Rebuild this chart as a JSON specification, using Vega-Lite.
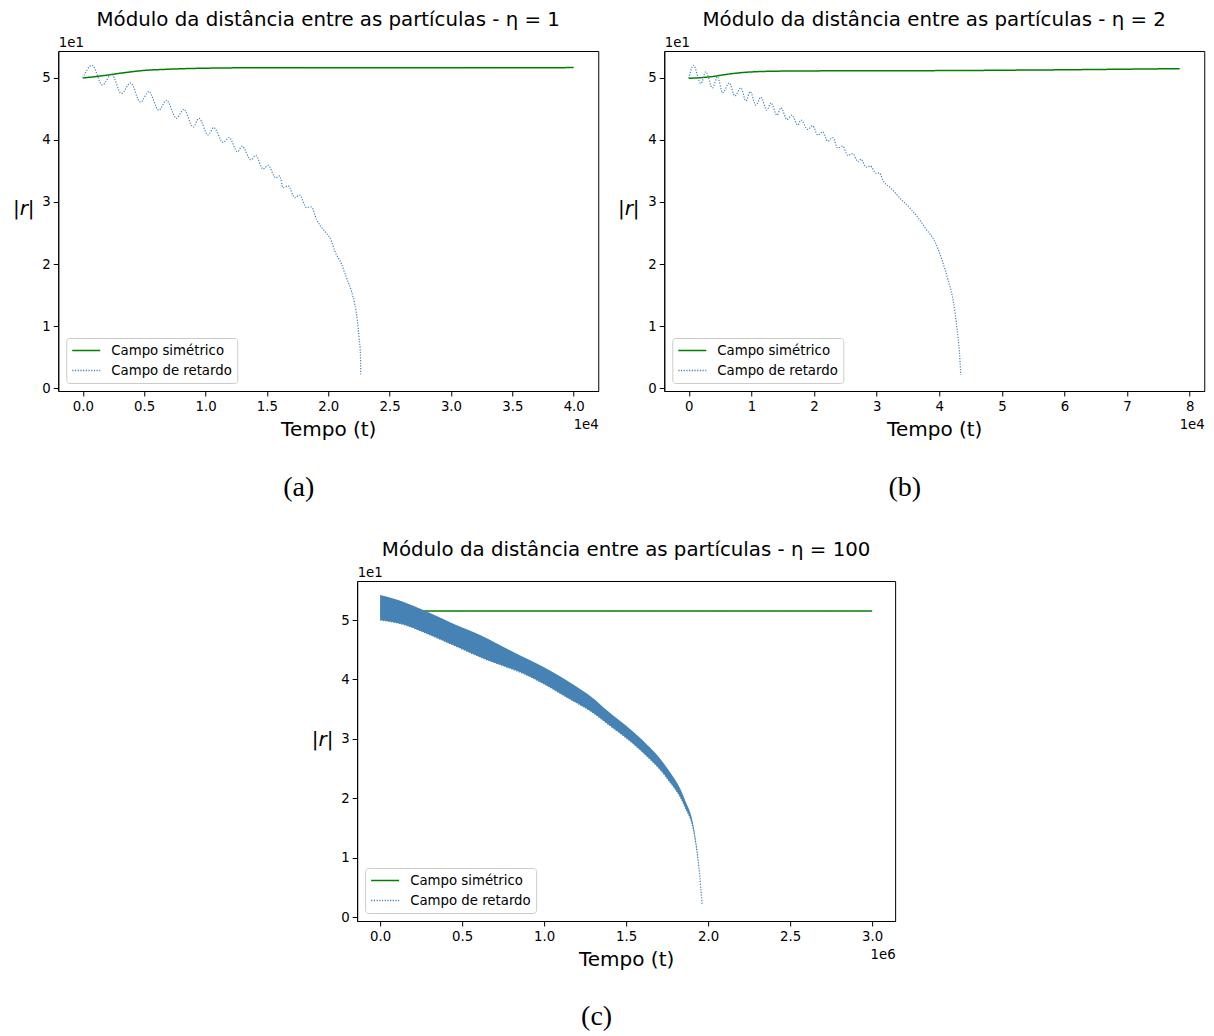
{
  "$schema": "https://vega.github.io/schema/vega-lite/v6.json",
  "padding": {"left": 11, "top": 9, "right": 5, "bottom": 5},
  "datasets": {
    "a": [
      {"s": "Campo simétrico", "t": 0, "r": 50.0},
      {"s": "Campo simétrico", "t": 1380, "r": 50.3},
      {"s": "Campo simétrico", "t": 2470, "r": 50.6},
      {"s": "Campo simétrico", "t": 3560, "r": 50.9},
      {"s": "Campo simétrico", "t": 4910, "r": 51.2},
      {"s": "Campo simétrico", "t": 6820, "r": 51.4},
      {"s": "Campo simétrico", "t": 9530, "r": 51.56},
      {"s": "Campo simétrico", "t": 14420, "r": 51.65},
      {"s": "Campo simétrico", "t": 20000, "r": 51.66},
      {"s": "Campo simétrico", "t": 30000, "r": 51.66},
      {"s": "Campo simétrico", "t": 40000, "r": 51.67},
      {"s": "Campo de retardo", "t": 0, "r": 50.0},
      {"s": "Campo de retardo", "t": 760, "r": 52.05},
      {"s": "Campo de retardo", "t": 1600, "r": 48.87},
      {"s": "Campo de retardo", "t": 2340, "r": 50.6},
      {"s": "Campo de retardo", "t": 3150, "r": 47.5},
      {"s": "Campo de retardo", "t": 3890, "r": 49.2},
      {"s": "Campo de retardo", "t": 4700, "r": 46.1},
      {"s": "Campo de retardo", "t": 5380, "r": 47.8},
      {"s": "Campo de retardo", "t": 6190, "r": 44.8},
      {"s": "Campo de retardo", "t": 6820, "r": 46.4},
      {"s": "Campo de retardo", "t": 7630, "r": 43.5},
      {"s": "Campo de retardo", "t": 8230, "r": 44.95},
      {"s": "Campo de retardo", "t": 8990, "r": 42.1},
      {"s": "Campo de retardo", "t": 9470, "r": 43.5},
      {"s": "Campo de retardo", "t": 10210, "r": 40.8},
      {"s": "Campo de retardo", "t": 10670, "r": 42.0},
      {"s": "Campo de retardo", "t": 11430, "r": 39.6},
      {"s": "Campo de retardo", "t": 11920, "r": 40.4},
      {"s": "Campo de retardo", "t": 12600, "r": 38.1},
      {"s": "Campo de retardo", "t": 12980, "r": 39.0},
      {"s": "Campo de retardo", "t": 13690, "r": 36.8},
      {"s": "Campo de retardo", "t": 14090, "r": 37.5},
      {"s": "Campo de retardo", "t": 14690, "r": 35.3},
      {"s": "Campo de retardo", "t": 15100, "r": 35.9},
      {"s": "Campo de retardo", "t": 15720, "r": 33.9},
      {"s": "Campo de retardo", "t": 16050, "r": 34.2},
      {"s": "Campo de retardo", "t": 16320, "r": 32.3},
      {"s": "Campo de retardo", "t": 16730, "r": 32.6},
      {"s": "Campo de retardo", "t": 17270, "r": 30.7},
      {"s": "Campo de retardo", "t": 17680, "r": 31.1},
      {"s": "Campo de retardo", "t": 18220, "r": 29.1},
      {"s": "Campo de retardo", "t": 18630, "r": 29.2},
      {"s": "Campo de retardo", "t": 19040, "r": 27.2},
      {"s": "Campo de retardo", "t": 19450, "r": 25.9},
      {"s": "Campo de retardo", "t": 19850, "r": 25.0},
      {"s": "Campo de retardo", "t": 20260, "r": 23.7},
      {"s": "Campo de retardo", "t": 20530, "r": 22.1},
      {"s": "Campo de retardo", "t": 21080, "r": 20.0},
      {"s": "Campo de retardo", "t": 21480, "r": 17.8},
      {"s": "Campo de retardo", "t": 21890, "r": 15.6},
      {"s": "Campo de retardo", "t": 22160, "r": 13.5},
      {"s": "Campo de retardo", "t": 22380, "r": 10.8},
      {"s": "Campo de retardo", "t": 22510, "r": 8.1},
      {"s": "Campo de retardo", "t": 22620, "r": 5.4},
      {"s": "Campo de retardo", "t": 22650, "r": 2.2}
    ],
    "b": [
      {"s": "Campo simétrico", "t": 0, "r": 49.95},
      {"s": "Campo simétrico", "t": 3520, "r": 50.2},
      {"s": "Campo simétrico", "t": 6190, "r": 50.6},
      {"s": "Campo simétrico", "t": 8850, "r": 50.9},
      {"s": "Campo simétrico", "t": 14190, "r": 51.1},
      {"s": "Campo simétrico", "t": 22190, "r": 51.15},
      {"s": "Campo simétrico", "t": 43520, "r": 51.2},
      {"s": "Campo simétrico", "t": 50000, "r": 51.25},
      {"s": "Campo simétrico", "t": 60000, "r": 51.32},
      {"s": "Campo simétrico", "t": 70000, "r": 51.42},
      {"s": "Campo simétrico", "t": 78400, "r": 51.5},
      {"s": "Campo de retardo", "t": 0, "r": 49.95},
      {"s": "Campo de retardo", "t": 750, "r": 52.05},
      {"s": "Campo de retardo", "t": 1920, "r": 49.1},
      {"s": "Campo de retardo", "t": 2720, "r": 51.0},
      {"s": "Campo de retardo", "t": 3790, "r": 48.4},
      {"s": "Campo de retardo", "t": 4590, "r": 50.2},
      {"s": "Campo de retardo", "t": 5390, "r": 47.6},
      {"s": "Campo de retardo", "t": 6450, "r": 49.2},
      {"s": "Campo de retardo", "t": 7360, "r": 47.1},
      {"s": "Campo de retardo", "t": 8320, "r": 48.4},
      {"s": "Campo de retardo", "t": 9120, "r": 46.3},
      {"s": "Campo de retardo", "t": 9810, "r": 47.8},
      {"s": "Campo de retardo", "t": 10720, "r": 45.6},
      {"s": "Campo de retardo", "t": 11520, "r": 46.9},
      {"s": "Campo de retardo", "t": 12480, "r": 44.8},
      {"s": "Campo de retardo", "t": 13120, "r": 46.0},
      {"s": "Campo de retardo", "t": 14080, "r": 44.0},
      {"s": "Campo de retardo", "t": 14720, "r": 45.2},
      {"s": "Campo de retardo", "t": 15680, "r": 43.3},
      {"s": "Campo de retardo", "t": 16480, "r": 44.0},
      {"s": "Campo de retardo", "t": 17390, "r": 42.4},
      {"s": "Campo de retardo", "t": 17920, "r": 43.2},
      {"s": "Campo de retardo", "t": 18990, "r": 41.7},
      {"s": "Campo de retardo", "t": 19790, "r": 42.3},
      {"s": "Campo de retardo", "t": 20590, "r": 40.8},
      {"s": "Campo de retardo", "t": 21390, "r": 41.3},
      {"s": "Campo de retardo", "t": 22190, "r": 39.8},
      {"s": "Campo de retardo", "t": 22990, "r": 40.4},
      {"s": "Campo de retardo", "t": 23790, "r": 38.7},
      {"s": "Campo de retardo", "t": 24590, "r": 39.0},
      {"s": "Campo de retardo", "t": 25390, "r": 37.5},
      {"s": "Campo de retardo", "t": 26190, "r": 37.8},
      {"s": "Campo de retardo", "t": 26990, "r": 36.5},
      {"s": "Campo de retardo", "t": 27520, "r": 36.9},
      {"s": "Campo de retardo", "t": 28320, "r": 35.6},
      {"s": "Campo de retardo", "t": 29010, "r": 35.8},
      {"s": "Campo de retardo", "t": 29920, "r": 34.6},
      {"s": "Campo de retardo", "t": 30450, "r": 34.7},
      {"s": "Campo de retardo", "t": 30990, "r": 33.5},
      {"s": "Campo de retardo", "t": 32320, "r": 32.2},
      {"s": "Campo de retardo", "t": 33920, "r": 30.4},
      {"s": "Campo de retardo", "t": 35250, "r": 29.1},
      {"s": "Campo de retardo", "t": 36590, "r": 27.5},
      {"s": "Campo de retardo", "t": 37920, "r": 25.6},
      {"s": "Campo de retardo", "t": 39250, "r": 23.7},
      {"s": "Campo de retardo", "t": 40320, "r": 21.0},
      {"s": "Campo de retardo", "t": 41440, "r": 17.3},
      {"s": "Campo de retardo", "t": 42240, "r": 14.0},
      {"s": "Campo de retardo", "t": 42880, "r": 9.2},
      {"s": "Campo de retardo", "t": 43200, "r": 6.0},
      {"s": "Campo de retardo", "t": 43440, "r": 2.1}
    ],
    "c": [
      {"s": "Campo simétrico", "t": 0, "r": 51.5},
      {"s": "Campo simétrico", "t": 1500000, "r": 51.5},
      {"s": "Campo simétrico", "t": 3000000, "r": 51.5},
      {"s": "Campo de retardo", "t": 0, "r": 50.0, "r2": 54.2},
      {"s": "Campo de retardo", "t": 148000, "r": 49.2, "r2": 53.0},
      {"s": "Campo de retardo", "t": 270000, "r": 47.9, "r2": 51.6},
      {"s": "Campo de retardo", "t": 453000, "r": 45.7, "r2": 49.3},
      {"s": "Campo de retardo", "t": 616000, "r": 43.7, "r2": 47.4},
      {"s": "Campo de retardo", "t": 779000, "r": 42.0, "r2": 45.1},
      {"s": "Campo de retardo", "t": 880000, "r": 40.9, "r2": 43.7},
      {"s": "Campo de retardo", "t": 982000, "r": 39.5, "r2": 42.3},
      {"s": "Campo de retardo", "t": 1175000, "r": 36.4, "r2": 39.2},
      {"s": "Campo de retardo", "t": 1287000, "r": 34.6, "r2": 37.1},
      {"s": "Campo de retardo", "t": 1388000, "r": 32.5, "r2": 34.7},
      {"s": "Campo de retardo", "t": 1591000, "r": 28.0, "r2": 30.0},
      {"s": "Campo de retardo", "t": 1754000, "r": 23.2, "r2": 24.9},
      {"s": "Campo de retardo", "t": 1856000, "r": 18.7, "r2": 19.9},
      {"s": "Campo de retardo", "t": 1917000, "r": 13.7, "r2": 14.3},
      {"s": "Campo de retardo", "t": 1947000, "r": 7.4, "r2": 7.6},
      {"s": "Campo de retardo", "t": 1963000, "r": 2.2, "r2": 2.2}
    ]
  },
  "vconcat": [
    {
      "hconcat": [
        {
          "width": 540, "height": 340,
          "title": {"text": "Módulo da distância entre as partículas - η = 1", "frame": "group", "offset": 5},
          "data": {"name": "a"},
          "layer": [
            {
              "mark": {"type": "line", "interpolate": "monotone"},
              "encoding": {
                "x": {"field": "t", "type": "quantitative", "scale": {"domain": [-2000, 42000], "nice": false, "zero": false},
                  "axis": {"values": [0, 5000, 10000, 15000, 20000, 25000, 30000, 35000, 40000], "labelExpr": "format(datum.value/10000,'.1f')", "title": "Tempo (t)", "titleFontSize": 20, "titleX": 270, "titleY": 38, "titleAlign": "center", "titleBaseline": "middle"}},
                "y": {"field": "r", "type": "quantitative", "scale": {"domain": [-0.48, 54.35], "nice": false, "zero": false},
                  "axis": {"values": [0, 10, 20, 30, 40, 50], "labelExpr": "format(datum.value/10,'d')", "title": "|r|", "titleAngle": 0, "titleFontStyle": "italic", "titleFontSize": 20, "titleX": -35, "titleY": 157, "titleAlign": "center", "titleBaseline": "middle"}},
                "color": {"field": "s", "type": "nominal", "scale": {"domain": ["Campo simétrico", "Campo de retardo"], "range": ["#008000", "#4682b4"]}, "legend": {"title": null}},
                "strokeDash": {"field": "s", "type": "nominal", "scale": {"domain": ["Campo simétrico", "Campo de retardo"], "range": [[1, 0], [1.2, 1.5]]}, "legend": {"title": null}},
                "strokeWidth": {"field": "s", "type": "nominal", "scale": {"domain": ["Campo simétrico", "Campo de retardo"], "range": [1.5, 1.2]}, "legend": null}
              }
            },
            {
              "mark": {"type": "line", "opacity": 0},
              "encoding": {
                "x": {"field": "t", "type": "quantitative", "axis": {"orient": "bottom", "title": "1e4", "labels": false, "ticks": false, "domain": false, "titleFontSize": 13.3, "titleX": 540, "titleY": 33, "titleAlign": "right", "titleBaseline": "middle"}},
                "y": {"field": "r", "type": "quantitative", "axis": {"orient": "left", "title": "1e1", "labels": false, "ticks": false, "domain": false, "titleFontSize": 13.3, "titleAngle": 0, "titleX": 0, "titleY": -9, "titleAlign": "left", "titleBaseline": "middle"}},
                "detail": {"field": "s"}
              }
            },
            {
              "mark": {"type": "line", "opacity": 0},
              "encoding": {
                "x": {"field": "t", "type": "quantitative", "axis": {"orient": "bottom", "title": "(a)", "labels": false, "ticks": false, "domain": false, "titleFont": "Liberation Serif", "titleFontSize": 28, "titleX": 240, "titleY": 96, "titleAlign": "center", "titleBaseline": "middle"}},
                "y": {"field": "r", "type": "quantitative", "axis": null},
                "detail": {"field": "s"}
              }
            }
          ],
          "resolve": {"axis": {"x": "independent", "y": "independent"}}
        },
        {
          "width": 540, "height": 340,
          "title": {"text": "Módulo da distância entre as partículas - η = 2", "frame": "group", "offset": 5},
          "data": {"name": "b"},
          "layer": [
            {
              "mark": {"type": "line", "interpolate": "monotone"},
              "encoding": {
                "x": {"field": "t", "type": "quantitative", "scale": {"domain": [-3920, 82320], "nice": false, "zero": false},
                  "axis": {"values": [0, 10000, 20000, 30000, 40000, 50000, 60000, 70000, 80000], "labelExpr": "format(datum.value/10000,'d')", "title": "Tempo (t)", "titleFontSize": 20, "titleX": 270, "titleY": 38, "titleAlign": "center", "titleBaseline": "middle"}},
                "y": {"field": "r", "type": "quantitative", "scale": {"domain": [-0.48, 54.35], "nice": false, "zero": false},
                  "axis": {"values": [0, 10, 20, 30, 40, 50], "labelExpr": "format(datum.value/10,'d')", "title": "|r|", "titleAngle": 0, "titleFontStyle": "italic", "titleFontSize": 20, "titleX": -36, "titleY": 157, "titleAlign": "center", "titleBaseline": "middle"}},
                "color": {"field": "s", "type": "nominal", "scale": {"domain": ["Campo simétrico", "Campo de retardo"], "range": ["#008000", "#4682b4"]}, "legend": {"title": null}},
                "strokeDash": {"field": "s", "type": "nominal", "scale": {"domain": ["Campo simétrico", "Campo de retardo"], "range": [[1, 0], [1.2, 1.5]]}, "legend": {"title": null}},
                "strokeWidth": {"field": "s", "type": "nominal", "scale": {"domain": ["Campo simétrico", "Campo de retardo"], "range": [1.5, 1.2]}, "legend": null}
              }
            },
            {
              "mark": {"type": "line", "opacity": 0},
              "encoding": {
                "x": {"field": "t", "type": "quantitative", "axis": {"orient": "bottom", "title": "1e4", "labels": false, "ticks": false, "domain": false, "titleFontSize": 13.3, "titleX": 540, "titleY": 33, "titleAlign": "right", "titleBaseline": "middle"}},
                "y": {"field": "r", "type": "quantitative", "axis": {"orient": "left", "title": "1e1", "labels": false, "ticks": false, "domain": false, "titleFontSize": 13.3, "titleAngle": 0, "titleX": 0, "titleY": -9, "titleAlign": "left", "titleBaseline": "middle"}},
                "detail": {"field": "s"}
              }
            },
            {
              "mark": {"type": "line", "opacity": 0},
              "encoding": {
                "x": {"field": "t", "type": "quantitative", "axis": {"orient": "bottom", "title": "(b)", "labels": false, "ticks": false, "domain": false, "titleFont": "Liberation Serif", "titleFontSize": 28, "titleX": 240, "titleY": 96, "titleAlign": "center", "titleBaseline": "middle"}},
                "y": {"field": "r", "type": "quantitative", "axis": null},
                "detail": {"field": "s"}
              }
            }
          ],
          "resolve": {"axis": {"x": "independent", "y": "independent"}}
        }
      ],
      "spacing": 66,
      "bounds": "flush",
      "resolve": {"legend": {"color": "independent", "strokeDash": "independent"}}
    },
    {
      "width": 538, "height": 340,
      "title": {"text": "Módulo da distância entre as partículas - η = 100", "frame": "group", "offset": 5},
      "data": {"name": "c"},
      "layer": [
        {
          "mark": {"type": "line", "interpolate": "monotone"},
          "encoding": {
            "x": {"field": "t", "type": "quantitative", "scale": {"domain": [-140000, 3140000], "nice": false, "zero": false},
              "axis": {"values": [0, 500000, 1000000, 1500000, 2000000, 2500000, 3000000], "labelExpr": "format(datum.value/1000000,'.1f')", "title": "Tempo (t)", "titleFontSize": 20, "titleX": 269, "titleY": 38, "titleAlign": "center", "titleBaseline": "middle"}},
            "y": {"field": "r", "type": "quantitative", "scale": {"domain": [-0.67, 56.57], "nice": false, "zero": false},
              "axis": {"values": [0, 10, 20, 30, 40, 50], "labelExpr": "format(datum.value/10,'d')", "title": "|r|", "titleAngle": 0, "titleFontStyle": "italic", "titleFontSize": 20, "titleX": -35, "titleY": 158, "titleAlign": "center", "titleBaseline": "middle"}},
            "color": {"field": "s", "type": "nominal", "scale": {"domain": ["Campo simétrico", "Campo de retardo"], "range": ["#008000", "#4682b4"]}, "legend": {"title": null}},
            "strokeDash": {"field": "s", "type": "nominal", "scale": {"domain": ["Campo simétrico", "Campo de retardo"], "range": [[1, 0], [1.2, 1.5]]}, "legend": {"title": null}},
            "strokeWidth": {"field": "s", "type": "nominal", "scale": {"domain": ["Campo simétrico", "Campo de retardo"], "range": [1.5, 1.2]}, "legend": null}
          }
        },
        {
          "transform": [{"filter": "datum.s === 'Campo de retardo'"}],
          "mark": {"type": "area", "color": "#4682b4", "opacity": 1, "interpolate": "monotone"},
          "encoding": {
            "x": {"field": "t", "type": "quantitative", "axis": null},
            "y": {"field": "r", "type": "quantitative", "axis": null},
            "y2": {"field": "r2"}
          }
        },
        {
          "mark": {"type": "line", "opacity": 0},
          "encoding": {
            "x": {"field": "t", "type": "quantitative", "axis": {"orient": "bottom", "title": "1e6", "labels": false, "ticks": false, "domain": false, "titleFontSize": 13.3, "titleX": 538, "titleY": 33, "titleAlign": "right", "titleBaseline": "middle"}},
            "y": {"field": "r", "type": "quantitative", "axis": {"orient": "left", "title": "1e1", "labels": false, "ticks": false, "domain": false, "titleFontSize": 13.3, "titleAngle": 0, "titleX": 0, "titleY": -9, "titleAlign": "left", "titleBaseline": "middle"}},
            "detail": {"field": "s"}
          }
        },
        {
          "mark": {"type": "line", "opacity": 0},
          "encoding": {
            "x": {"field": "t", "type": "quantitative", "axis": {"orient": "bottom", "title": "(c)", "labels": false, "ticks": false, "domain": false, "titleFont": "Liberation Serif", "titleFontSize": 28, "titleX": 239, "titleY": 95, "titleAlign": "center", "titleBaseline": "middle"}},
            "y": {"field": "r", "type": "quantitative", "axis": {"orient": "right", "title": ".", "titleOpacity": 0, "labels": false, "ticks": false, "domain": false, "titleFontSize": 13.3, "titleAngle": 0, "titleX": 6, "titleY": 170, "titleAlign": "left", "titleBaseline": "middle"}},
            "detail": {"field": "s"}
          }
        }
      ],
      "resolve": {"axis": {"x": "independent", "y": "independent"}}
    }
  ],
  "spacing": 37,
  "center": true,
  "resolve": {"legend": {"color": "independent", "strokeDash": "independent"}},
  "config": {
    "font": "DejaVu Sans",
    "view": {"stroke": "black", "strokeWidth": 1},
    "axis": {"grid": false, "domainColor": "black", "domainWidth": 1, "tickColor": "black", "tickSize": 5, "tickWidth": 1, "labelColor": "black", "labelFont": "DejaVu Sans", "labelFontSize": 13.3, "labelPadding": 3, "titleFont": "DejaVu Sans", "titleFontWeight": "normal", "titleColor": "black"},
    "title": {"font": "DejaVu Sans", "fontSize": 19.8, "fontWeight": "normal", "color": "black", "anchor": "middle"},
    "legend": {"orient": "bottom-left", "offset": 8, "fillColor": "white", "strokeColor": "#cccccc", "cornerRadius": 3, "padding": 5, "labelFont": "DejaVu Sans", "labelFontSize": 13.3, "labelColor": "black", "symbolSize": 784, "symbolStrokeWidth": 1.5, "symbolType": "stroke", "rowPadding": 5, "clipHeight": 15, "labelOffset": 10}
  }
}
